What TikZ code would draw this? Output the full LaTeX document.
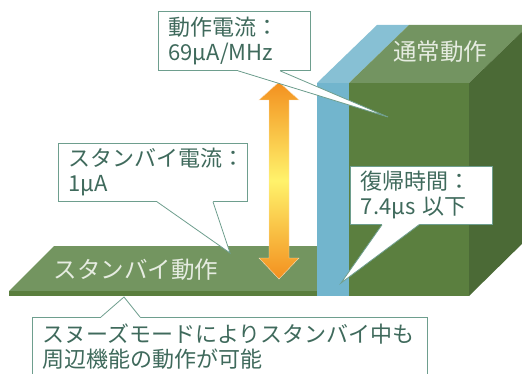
\documentclass[tikz,border=0pt]{standalone}
\usepackage{fontspec}
\setmainfont{Noto Sans CJK JP}
\usetikzlibrary{calc}

\definecolor{slabtop}{HTML}{739560}
\definecolor{slabfront}{HTML}{5A7E3E}
\definecolor{barfront}{HTML}{72B5CD}
\definecolor{bartop}{HTML}{87C0D4}
\definecolor{boxfront}{HTML}{5B7F3F}
\definecolor{boxtop}{HTML}{739461}
\definecolor{boxside}{HTML}{4B6A36}
\definecolor{labellight}{HTML}{E6ECE1}
\definecolor{callouttext}{HTML}{3F6A5C}
\definecolor{calloutline}{HTML}{6E9E8E}
\definecolor{arroworange}{HTML}{F3901F}
\definecolor{arrowyellow}{HTML}{FFF36B}

\begin{document}
\begin{tikzpicture}[x=1pt,y=-1pt,
  callout/.style={draw=calloutline, line width=0.8pt, fill=white,
    anchor=north west, align=left, text=callouttext,
    font=\fontsize{22}{25}\selectfont, inner xsep=10pt, inner ysep=0pt},
  facelabel/.style={text=labellight, font=\fontsize{23.5}{26}\selectfont, inner sep=0pt}
  ]
\useasboundingbox (0,0) rectangle (522,374);
\clip (0,0) rectangle (522,374);

% standby slab
\fill[slabtop] (54,246) -- (317,246) -- (317,291) -- (9,291) -- cycle;
\fill[slabfront] (9,291) rectangle (317,296);
\node[facelabel] (standby) at (136,270) {スタンバイ動作};

% transition bar
\fill[barfront] (317,83) rectangle (349,296);
\fill[bartop] (317,83) -- (349,83) -- (409,25) -- (377,25) -- cycle;

% normal operation block
\fill[boxfront] (349,83) rectangle (469,296);
\fill[boxtop] (349,83) -- (469,83) -- (529,25) -- (409,25) -- cycle;
\fill[boxside] (469,83) -- (529,25) -- (529,237) -- (469,296) -- cycle;
\node[facelabel] (normal) at (440,52) {通常動作};

% current ratio arrow
\shade[top color=arroworange, bottom color=arroworange, middle color=arrowyellow,
       draw=white!70!arroworange, line width=0.4pt]
  (279,82) -- (299,100) -- (289,100) -- (289,258) -- (299,258) -- (279,279)
  -- (259,258) -- (269,258) -- (269,100) -- (259,100) -- cycle;

% callouts
\node[callout, text width=132pt, minimum height=59pt] (run) at (158,11)
  {動作電流：\\69µA/MHz};
\coordinate (runtip) at (388,117);
\fill[white] ($(run.south west)+(80,-1)$) -- ($(run.south west)+(80,0)$) -- (runtip)
  -- ($(run.south west)+(122,0)$) -- ($(run.south west)+(122,-1)$) -- cycle;
\draw[calloutline, line width=0.8pt] ($(run.south west)+(80,0)$) -- (runtip)
  -- ($(run.south west)+(122,0)$);

\node[callout, text width=169pt, minimum height=58pt] (stby) at (58,143)
  {スタンバイ電流：\\1µA};
\coordinate (stbytip) at (230,253);
\fill[white] ($(stby.south west)+(99,-1)$) -- ($(stby.south west)+(99,0)$) -- (stbytip)
  -- ($(stby.south west)+(155,0)$) -- ($(stby.south west)+(155,-1)$) -- cycle;
\draw[calloutline, line width=0.8pt] ($(stby.south west)+(99,0)$) -- (stbytip)
  -- ($(stby.south west)+(155,0)$);

\node[callout, text width=121pt, inner xsep=10.5pt, minimum height=58pt] (wake) at (350,166)
  {復帰時間：\\7.4µs 以下};
\coordinate (waketip) at (341,283);
\fill[white] ($(wake.south west)+(32,-1)$) -- ($(wake.south west)+(32,0)$) -- (waketip)
  -- ($(wake.south west)+(69,0)$) -- ($(wake.south west)+(69,-1)$) -- cycle;
\draw[calloutline, line width=0.8pt] ($(wake.south west)+(32,0)$) -- (waketip)
  -- ($(wake.south west)+(69,0)$);

\node[callout, text width=375pt, minimum height=58pt] (snooze) at (32,317)
  {スヌーズモードによりスタンバイ中も\\周辺機能の動作が可能};
\coordinate (snoozetip) at (124,297);
\fill[white] ($(snooze.north west)+(69,1)$) -- ($(snooze.north west)+(69,0)$) -- (snoozetip)
  -- ($(snooze.north west)+(108,0)$) -- ($(snooze.north west)+(108,1)$) -- cycle;
\draw[calloutline, line width=0.8pt] ($(snooze.north west)+(69,0)$) -- (snoozetip)
  -- ($(snooze.north west)+(108,0)$);
\end{tikzpicture}
\end{document}
